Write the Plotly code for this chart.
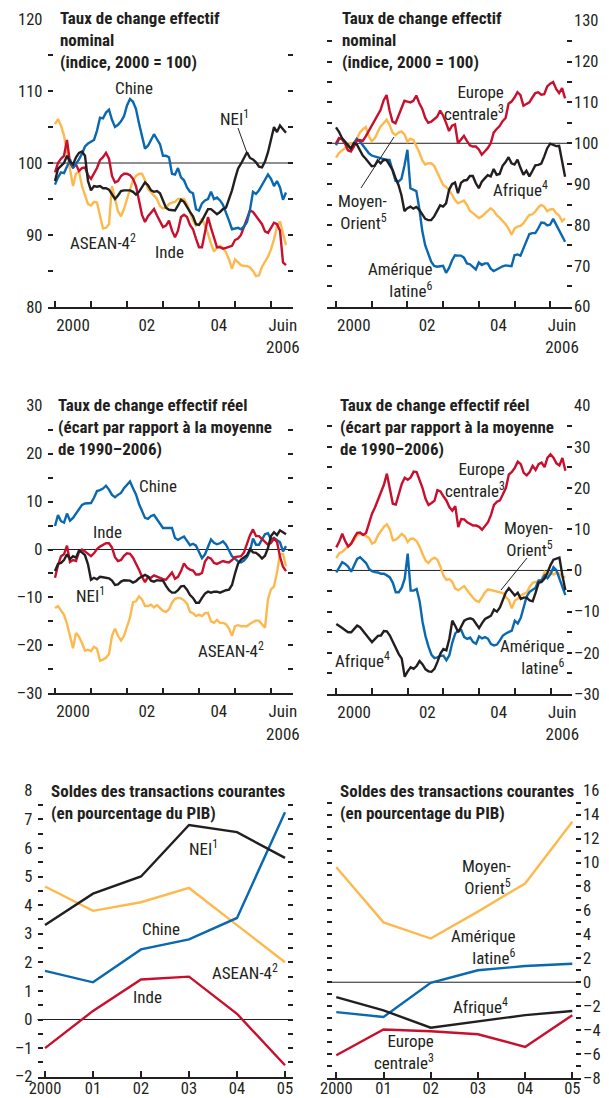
import plotly.graph_objects as go

# The page body keeps the browser's default 8px margin, so the figure is drawn
# 8px in from the top-left corner of the 609x1098 window.
OFF = 8
W, H = 609 - OFF, 1098 - OFF
FONT = "Roboto Condensed, Liberation Sans Narrow, DejaVu Sans Condensed, Liberation Sans, sans-serif"
TXT = "#231F20"
BLUE, RED, ORANGE, BLACK = "#0A68B0", "#C8102E", "#FDB94E", "#231F20"

# ---------------- monthly data, Jan 2000 - Jun 2006 ----------------
nom_chine = [97.0, 98.0, 98.7, 98.6, 99.5, 100.5, 99.3, 99.9, 100.5, 101.3, 102.3, 102.7,
             103.0, 103.2, 104.5, 106.3, 106.2, 107.0, 107.4, 106.0, 105.0, 105.3, 105.8, 106.5,
             108.0, 108.9, 108.5, 107.5, 105.5, 103.8, 102.0, 102.4, 103.2, 104.0, 103.3, 102.6,
             101.0, 101.0, 100.8, 98.5, 98.4, 99.3, 98.0, 97.6, 96.6, 96.0, 95.8, 93.6,
             93.4, 94.4, 94.8, 95.0, 96.0, 95.0, 95.2, 94.8, 94.2, 93.2, 92.0, 90.8,
             90.9, 91.0, 90.8, 91.2, 91.8, 93.5, 96.0, 95.7, 96.2, 96.9, 97.8, 98.4,
             97.8, 96.8, 97.5, 96.6, 94.9, 95.9]
nom_inde = [98.7, 100.0, 100.6, 101.0, 103.2, 100.0, 99.4, 99.8, 98.9, 99.3, 99.4, 98.3,
            97.8, 98.5, 99.3, 100.4, 100.8, 101.4, 100.6, 98.2, 97.3, 97.5, 98.2, 98.5,
            98.5, 98.3, 97.8, 96.8, 94.8, 92.8, 91.8, 92.6, 93.1, 93.6, 92.7, 92.0,
            91.1, 91.3, 92.0, 90.6, 89.7, 90.6, 92.5, 92.8, 92.5, 91.4, 90.8, 89.5,
            88.3, 88.3, 90.5, 92.5, 91.0, 89.5, 88.3, 88.3, 88.1, 88.2, 88.3, 88.5,
            89.3, 89.5, 90.0, 91.2, 92.5, 93.4, 93.2, 92.6, 92.1, 91.5, 90.5, 90.3,
            91.0, 91.7, 91.5, 90.6, 86.2, 85.8]
nom_asean = [105.4, 106.1, 105.2, 103.8, 101.5, 99.0, 96.8, 98.5, 98.8, 96.8, 95.4, 94.3,
             94.1, 94.6, 94.5, 92.5, 90.9, 91.0, 91.5, 96.8, 95.0, 93.3, 92.6, 93.6,
             95.0, 96.3, 97.6, 98.2, 98.5, 98.5, 97.6, 96.4, 95.9, 95.5, 95.0, 94.0,
             93.7, 93.8, 94.3, 94.5, 94.6, 95.0, 95.0, 95.0, 94.3, 93.1, 92.0, 91.3,
             91.5, 92.3, 91.2, 90.2, 88.8, 87.7, 88.3, 88.5, 88.2, 87.6, 86.6, 85.3,
             86.6, 86.2, 85.8, 85.7, 85.7, 85.5, 85.0, 84.3, 84.4, 85.6, 86.3, 87.0,
             88.0, 89.4, 91.2, 91.9, 90.2, 88.6]
nom_nei = [97.5, 99.2, 99.6, 100.0, 101.0, 100.2, 99.8, 100.8, 101.4, 101.6, 101.0, 97.5,
           96.2, 96.8, 96.7, 96.8, 96.5, 96.5, 96.3, 95.7, 95.0, 95.5, 96.1, 96.2,
           96.2, 96.2, 96.0, 95.6, 96.0, 96.7, 97.3, 96.9, 96.2, 96.0, 96.1, 95.8,
           94.9, 93.8, 93.5, 93.4, 93.4, 94.1, 94.9, 94.6, 93.8, 93.2, 92.6, 91.5,
           91.4, 92.0, 92.8, 93.6, 93.6, 93.2, 92.9, 93.2, 93.6, 93.8, 95.0, 96.2,
           97.8, 99.2, 99.9, 100.7, 101.5, 100.7, 100.5, 100.1, 99.5, 99.4, 100.2, 101.5,
           103.5, 105.0, 104.3, 105.2, 104.7, 104.2]

nom_europe = [100.0, 101.3, 101.0, 100.0, 98.3, 98.0, 99.2, 100.6, 100.8, 100.6, 101.7, 103.0,
              104.0, 105.6, 106.8, 108.2, 110.5, 111.8, 108.0, 105.3, 104.9, 106.8, 109.0, 110.4,
              110.2, 110.0, 110.4, 111.7, 109.8, 108.4, 106.2, 105.0, 105.3, 105.8, 106.5, 108.0,
              106.8, 105.0, 103.0, 104.3, 104.6, 100.0, 101.0, 101.8, 100.6, 99.5, 99.2, 99.2,
              98.5, 97.2, 98.0, 98.8, 100.0, 102.6, 103.5, 104.2, 105.4, 106.2, 109.7, 110.2,
              111.2, 112.5, 111.8, 109.2, 109.6, 110.0, 111.2, 112.3, 112.5, 111.9, 112.0, 113.9,
              114.6, 115.0, 113.3, 112.3, 113.5, 111.0]
nom_moyen = [96.5, 97.6, 98.2, 98.7, 99.4, 100.0, 100.0, 101.1, 102.6, 103.4, 104.0, 101.8,
             100.5, 101.2, 102.8, 104.1, 104.9, 105.8, 104.5, 102.6, 102.0, 102.6, 102.9, 102.2,
             100.4, 101.1, 100.8, 99.4, 97.8, 95.8, 94.8, 95.1, 95.1, 94.5, 93.0, 91.4,
             89.8, 89.3, 88.6, 87.4, 86.1, 85.3, 85.7, 86.0, 84.9, 83.5, 82.9, 82.2,
             81.7, 82.1, 82.7, 83.3, 84.1, 83.5, 82.4, 81.8, 81.0, 80.2, 79.1, 77.6,
             79.1, 79.6, 79.8, 80.4, 81.5, 82.5, 82.6, 83.3, 84.3, 84.9, 84.5, 83.4,
             83.8, 83.9, 82.9, 82.3, 80.9, 81.6]
nom_amlat = [99.5, 101.0, 101.2, 100.4, 99.4, 98.7, 100.0, 101.1, 100.5, 99.5, 98.3, 97.6,
             97.0, 96.8, 96.6, 96.3, 96.1, 95.9, 95.9, 93.5, 90.8, 90.6, 91.3, 94.5,
             98.4, 89.0, 88.6, 88.3, 84.0, 78.5, 75.0, 72.7, 71.0, 70.0, 69.8, 69.9,
             70.0, 68.3, 69.5, 71.3, 72.6, 72.5, 72.5, 72.0, 70.6, 70.4, 69.8, 69.1,
             70.8, 70.2, 70.6, 70.6, 69.3, 68.7, 69.1, 69.6, 69.9, 70.1, 70.0, 69.9,
             72.6, 72.8, 72.5, 74.3, 76.1, 77.8, 78.0, 78.0, 79.2, 80.6, 80.5, 79.9,
             80.1, 81.5, 80.1, 78.7, 77.0, 75.9]
nom_afrique = [103.9, 102.8, 101.3, 100.3, 99.5, 98.7, 100.0, 99.7, 98.2, 97.0, 96.2, 95.2,
               94.4, 94.5, 95.8, 95.1, 95.9, 95.9, 94.6, 93.5, 91.5, 89.8, 87.3, 83.4,
               84.1, 84.5, 84.0, 84.4, 83.7, 82.6, 81.5, 81.2, 81.2, 82.1, 83.4, 84.8,
               84.5, 85.3, 88.6, 90.0, 90.4, 87.8, 90.3, 90.9, 91.0, 92.0, 92.0, 90.2,
               89.0, 90.6, 91.4, 92.2, 91.9, 93.7, 92.3, 92.5, 94.5, 95.4, 96.6, 95.1,
               94.8, 96.0, 94.0, 92.3, 93.3, 91.9, 93.2, 94.6, 94.7, 95.0, 96.8, 98.8,
               99.9, 99.6, 99.3, 99.4, 95.8, 91.8]

reel_chine = [4.9, 7.2, 5.9, 5.6, 7.5, 6.0, 6.6, 7.5, 8.4, 9.3, 9.6, 9.7,
              9.7, 10.8, 12.2, 12.4, 12.7, 13.3, 12.5, 11.4, 10.9, 11.4, 11.8, 12.8,
              13.6, 14.2, 12.8, 11.5, 9.5, 8.2, 6.6, 6.4, 7.0, 7.2, 6.3, 5.4,
              4.5, 4.5, 4.5, 4.5, 2.4, 2.0, 2.4, 2.7, 1.8, 0.9, 1.2, 0.8,
              -0.5, -1.8, -1.0, 0.5, 2.1, 1.4, 1.1, 1.3, 1.7, 1.0, -0.2, -1.4,
              -1.9, -2.5, -2.7, -2.3, -1.6, -0.3, 2.3, 1.0, 1.0, 2.2, 3.2, 3.4,
              2.1, 2.4, 2.0, 1.5, -0.4, 0.7]
reel_inde = [-5.9, -3.3, -1.4, -1.0, 0.8, -2.6, -2.2, -2.4, -0.5, 0.0, -0.4, -1.0,
             -1.4, -0.8, 0.1, 0.6, 1.0, 1.3, 1.3, 0.4, -1.6, -2.4, -2.2, -1.3,
             -0.8, -0.9, -1.7, -2.9, -4.2, -5.7, -6.8, -5.7, -5.9, -5.4, -5.7, -5.9,
             -6.2, -6.3, -5.6, -4.8, -6.1, -5.7, -4.5, -2.9, -3.8, -4.2, -4.4, -5.2,
             -5.2, -4.9, -2.5, -1.6, -1.9, -2.8, -3.0, -2.7, -2.4, -2.6, -2.7, -2.2,
             -1.6, -1.5, -1.4, -0.6, 1.2, 3.0, 4.2, 2.8, 2.8, 2.3, 1.6, 1.0,
             1.4, 2.3, 1.6, -1.5, -3.6, -4.5]
reel_nei = [-4.5, -3.0, -2.8, -2.2, -1.0, -2.0, -1.4, -1.7, -0.2, -0.6, -1.2, -3.1,
            -6.3, -5.9, -6.2, -5.7, -5.8, -5.9, -6.0, -6.5, -7.4, -7.3, -6.7, -6.4,
            -6.5, -6.5, -6.9, -6.6, -6.0, -5.7, -5.3, -5.6, -6.5, -6.7, -6.4, -6.5,
            -6.5, -7.6, -8.5, -9.0, -9.0, -8.5, -7.7, -7.6, -8.4, -9.5, -10.1, -11.1,
            -11.1, -10.1, -9.2, -8.8, -9.0, -8.8, -8.8, -9.0, -8.7, -8.5, -8.4, -7.4,
            -5.0, -3.0, -2.1, -1.7, -1.2, 0.1, -0.6, -0.7, -1.2, -1.9, -1.3, 0.3,
            2.8, 3.6, 3.0, 4.0, 3.5, 3.2]
reel_asean = [-12.2, -11.8, -12.7, -13.6, -15.5, -18.3, -20.6, -17.4, -18.2, -19.5, -21.1, -20.9,
              -21.2, -20.3, -20.7, -23.2, -23.0, -22.6, -21.8, -18.0, -16.5, -18.0, -19.0, -18.0,
              -16.1, -14.2, -11.0, -10.8, -9.8, -10.4, -11.8, -11.8, -11.5, -12.1, -11.6, -12.2,
              -12.8, -13.0, -12.5, -11.1, -10.3, -10.1, -10.2, -10.6, -11.3, -13.0, -13.3, -13.9,
              -13.6, -13.9, -13.3, -13.2, -15.0, -15.3, -14.7, -15.3, -15.3, -15.6, -16.5, -18.0,
              -16.0, -15.8, -16.0, -16.0, -16.0, -15.5, -15.1, -14.8, -14.9, -15.6, -16.3, -10.3,
              -8.3, -7.7, -4.8, -1.0, -0.9, -3.5]

reel_europe = [5.6, 7.0, 8.9, 7.1, 5.8, 6.5, 7.9, 9.1, 9.2, 8.6, 9.1, 11.4,
               13.8, 15.3, 17.0, 18.8, 20.8, 23.5, 19.5, 16.2, 16.0, 18.7, 21.0, 22.5,
               22.0, 22.6, 24.0, 23.9, 22.1, 20.0, 17.4, 15.9, 16.4, 16.9, 19.5, 19.2,
               18.0, 17.0, 15.4, 14.5, 15.6, 10.5, 12.5, 12.4, 11.7, 11.2, 10.9, 10.9,
               10.6, 9.9, 10.9, 11.7, 13.5, 15.9, 16.7, 17.0, 18.5, 20.0, 23.3, 23.9,
               24.9, 26.4, 25.8, 23.7, 23.1, 23.9, 25.4, 24.4, 25.8, 26.2, 25.1, 27.4,
               28.2, 27.4, 26.0, 25.5, 27.3, 24.2]
reel_moyen = [3.0, 4.2, 4.5, 5.2, 5.9, 6.8, 7.3, 8.6, 8.9, 8.8, 8.4, 7.9,
              6.5, 6.9, 8.5, 9.7, 10.6, 11.2, 10.0, 7.3, 7.5, 8.1, 8.9, 8.3,
              6.9, 7.7, 7.7, 7.1, 5.8, 4.0, 2.4, 1.8, 2.7, 3.1, 2.6, 0.9,
              -1.2, -2.3, -2.1, -2.8, -4.4, -4.8, -4.3, -3.8, -4.8, -5.8, -6.7, -7.4,
              -7.6, -6.5, -5.3, -4.6, -4.8, -4.9, -5.2, -5.3, -5.5, -6.5, -7.2, -9.2,
              -7.3, -6.9, -6.1, -5.7, -5.4, -4.0, -3.0, -2.8, -2.7, -2.2, -0.4, -1.1,
              -0.5, -1.0, -0.6, -0.8, -1.6, -1.6]
reel_amlat = [-0.5, 0.9, 2.0, 1.6, 0.9, -0.3, 1.3, 2.8, 3.2, 2.6, 1.8, 0.4,
              -0.2, -0.4, -0.5, -0.8, -0.8, -1.2, -1.7, -3.0, -5.3, -5.3, -4.2, -2.0,
              4.1, -4.9, -4.9, -4.5, -7.5, -12.5, -16.0, -18.5, -20.5, -21.3, -21.1, -20.7,
              -20.7, -21.8, -20.6, -17.5, -15.3, -14.6, -14.5, -16.2, -16.6, -16.3, -17.4, -17.8,
              -16.0, -16.5, -16.2, -16.6, -17.9, -18.2, -18.0, -17.0, -15.8, -15.3, -15.0, -14.6,
              -12.2, -12.9, -11.5, -8.7, -6.3, -5.2, -4.8, -4.2, -2.4, -2.4, -1.2, -1.9,
              -0.9, 0.8, 0.0, -2.0, -4.0, -6.0]
reel_afrique = [-13.0, -13.6, -14.0, -14.5, -15.0, -15.0, -14.1, -13.4, -13.8, -14.8, -15.8, -16.5,
                -17.4, -16.7, -15.9, -15.8, -14.7, -14.8, -15.8, -17.3, -19.0, -20.3, -21.4, -25.8,
                -24.5, -23.5, -23.9, -23.2, -22.0, -22.8, -24.0, -24.5, -24.6, -23.9, -22.2, -20.2,
                -19.1, -19.4, -16.6, -12.2, -13.5, -15.0, -13.6, -12.2, -11.8, -11.6, -11.9, -13.0,
                -14.0, -12.8, -11.8, -11.4, -11.0, -9.5, -10.0, -9.0, -7.0, -5.3, -4.3, -5.2,
                -6.1, -5.4, -6.9, -6.6, -6.6, -7.3, -7.5, -5.4, -3.0, -2.8, -2.0, -0.5,
                1.3, 2.6, 2.8, 3.1, -1.2, -4.8]

# ---------------- annual data: current account (% of GDP) ----------------
annees = ["2000", "01", "02", "03", "04", "05"]
cc_nei = [3.3, 4.4, 5.0, 6.8, 6.55, 5.65]
cc_asean = [4.65, 3.8, 4.1, 4.6, 3.3, 2.0]
cc_chine = [1.7, 1.3, 2.45, 2.8, 3.55, 7.25]
cc_inde = [-1.0, 0.3, 1.4, 1.5, 0.2, -1.6]
cc_moyen = [9.6, 5.0, 3.65, 5.9, 8.25, 13.4]
cc_amlat = [-2.5, -2.9, -0.05, 1.0, 1.35, 1.55]
cc_afrique = [-1.25, -2.35, -3.8, -3.3, -2.75, -2.4]
cc_europe = [-6.1, -3.95, -4.1, -4.35, -5.4, -2.75]

# ---------------- layout helpers (positions given in window pixels) ----------------
def fx(p):
    return (p - OFF) / W

def fy(p):
    return 1 - (p - OFF) / H

def months(series):
    return [2000 + i / 12 for i in range(len(series))]

def num_label(v, step):
    if abs(v / step - round(v / step)) > 1e-9:
        return ""
    s = ("%g" % abs(v))
    return ("\u2013" + s) if v < 0 else s

fig = go.Figure()
layout = dict(width=W, height=H, margin=dict(l=0, r=0, t=0, b=0, pad=0, autoexpand=False),
              paper_bgcolor="white", plot_bgcolor="white", showlegend=False,
              font=dict(family=FONT, size=17, color=TXT))

# (x domain px, y domain px, y range, tick step, label step, label side, monthly?,
#  px of 2000, px per year, x label standoff)
panels = [
    ((47.5, 293), (19, 307), (80, 120), 5, 10, "left", True, 55, 36.0, 2),
    ((327, 572), (20.7, 306.7), (60, 130), 5, 10, "right", True, 336, 35.7, 2),
    ((47.5, 293), (405.7, 693.3), (-30, 30), 5, 10, "left", True, 55, 36.0, 2),
    ((327, 572), (405.7, 694), (-30, 40), 5, 10, "right", True, 336.3, 35.7, 2),
    ((37.5, 293), (790.7, 1076.7), (-2, 8), 0.5, 1, "left", False, 45, 48.0, -4),
    ((327, 581), (790.7, 1078), (-8, 16), 1, 2, "right", False, 336.3, 47.2, -6),
]

TICKW = 1.8
for k, (xd, yd, yr, tstep, lstep, side, monthly, x0, ppy, xso) in enumerate(panels, start=1):
    sfx = "" if k == 1 else str(k)
    base = 2000 if monthly else 0
    xr = [base + (xd[0] - x0) / ppy, base + (xd[1] - x0) / ppy]
    n = int(round((yr[1] - yr[0]) / tstep))
    yvals = [yr[0] + i * tstep for i in range(n + 1)]
    ytext = [num_label(v, lstep) for v in yvals]
    if monthly:
        xax = dict(tickvals=[2000.5, 2002.55, 2004.55, 2006.33],
                   ticktext=["2000", "02", "04", "Juin<br>2006"], ticks="",
                   minor=dict(tickvals=list(range(2000, 2007)), ticks="inside",
                              ticklen=6, tickwidth=TICKW, tickcolor=TXT),
                   tickfont=dict(family=FONT, size=17, color=TXT))
    else:
        xax = dict(tickvals=list(range(len(annees))), ticktext=annees,
                   ticks="inside", ticklen=6, tickwidth=TICKW, tickcolor=TXT,
                   tickfont=dict(family=FONT, size=16.5, color=TXT))
    xax.update(domain=[fx(xd[0]), fx(xd[1])], range=xr, showgrid=False,
               zeroline=False, showline=True, linecolor=TXT, linewidth=1.5,
               anchor="y" + sfx, fixedrange=True, automargin=False,
               ticklabelstandoff=xso)
    yax = dict(domain=[fy(yd[1]), fy(yd[0])], range=list(yr), tickvals=yvals,
               ticktext=ytext, ticks="inside", ticklen=5, tickwidth=TICKW,
               tickcolor=TXT, mirror="ticks", showline=False, showgrid=False,
               zeroline=False, side=side, anchor="x" + sfx, fixedrange=True,
               ticklabelstandoff=(4 if side == "left" else 1), automargin=False,
               layer="above traces",
               tickfont=dict(family=FONT, size=16.5, color=TXT))
    layout["xaxis" + sfx] = xax
    layout["yaxis" + sfx] = yax

fig.update_layout(**layout)

def add_line(series, color, k, xs=None):
    sfx = "" if k == 1 else str(k)
    fig.add_trace(go.Scatter(x=xs if xs is not None else months(series), y=series,
                             mode="lines", line=dict(color=color, width=2.4),
                             xaxis="x" + sfx, yaxis="y" + sfx, hoverinfo="skip"))

def ref_line(k, y):
    sfx = "" if k == 1 else str(k)
    fig.add_shape(type="line", xref="x" + sfx + " domain", x0=0, x1=1,
                  yref="y" + sfx, y0=y, y1=y, line=dict(color=TXT, width=1),
                  layer="below")

for k, y in [(1, 100), (2, 100), (3, 0), (4, 0), (5, 0), (6, 0)]:
    ref_line(k, y)

add_line(nom_asean, ORANGE, 1)
add_line(nom_inde, RED, 1)
add_line(nom_chine, BLUE, 1)
add_line(nom_nei, BLACK, 1)

add_line(nom_moyen, ORANGE, 2)
add_line(nom_amlat, BLUE, 2)
add_line(nom_europe, RED, 2)
add_line(nom_afrique, BLACK, 2)

add_line(reel_asean, ORANGE, 3)
add_line(reel_chine, BLUE, 3)
add_line(reel_inde, RED, 3)
add_line(reel_nei, BLACK, 3)

add_line(reel_moyen, ORANGE, 4)
add_line(reel_europe, RED, 4)
add_line(reel_amlat, BLUE, 4)
add_line(reel_afrique, BLACK, 4)

idx = list(range(len(annees)))
add_line(cc_asean, ORANGE, 5, idx)
add_line(cc_inde, RED, 5, idx)
add_line(cc_chine, BLUE, 5, idx)
add_line(cc_nei, BLACK, 5, idx)

add_line(cc_moyen, ORANGE, 6, idx)
add_line(cc_europe, RED, 6, idx)
add_line(cc_amlat, BLUE, 6, idx)
add_line(cc_afrique, BLACK, 6, idx)

# ---------------- titles ----------------
titles = [
    (58, 6, "<b>Taux de change effectif<br>nominal<br>(indice, 2000 = 100)</b>"),
    (340, 6, "<b>Taux de change effectif<br>nominal<br>(indice, 2000 = 100)</b>"),
    (56, 393, "<b>Taux de change effectif réel<br>(écart par rapport à la moyenne<br>de 1990\u20132006)</b>"),
    (338, 393, "<b>Taux de change effectif réel<br>(écart par rapport à la moyenne<br>de 1990\u20132006)</b>"),
    (49, 779, "<b>Soldes des transactions courantes<br>(en pourcentage du PIB)</b>"),
    (338, 779, "<b>Soldes des transactions courantes<br>(en pourcentage du PIB)</b>"),
]
for x, y, t in titles:
    fig.add_annotation(text=t, xref="paper", yref="paper", x=fx(x), y=fy(y),
                       xanchor="left", yanchor="top", align="left", showarrow=False,
                       font=dict(family=FONT, size=17, color=TXT))

# ---------------- series labels (centre positions, px) ----------------
labels = [
    (134, 88, "Chine"), (234, 118, "NEI<sup>1</sup>"), (103, 242, "ASEAN-4<sup>2</sup>"),
    (169, 252, "Inde"),
    (474, 103, "Europe<br>centrale<sup>3</sup>"), (520, 189, "Afrique<sup>4</sup>"),
    (362, 212, "Moyen-<br>Orient<sup>5</sup>"), (400, 280, "Amérique<br>latine<sup>6</sup>"),
    (158, 486, "Chine"), (107, 532, "Inde"), (90, 595, "NEI<sup>1</sup>"),
    (231, 650, "ASEAN-4<sup>2</sup>"),
    (475, 480, "Europe<br>centrale<sup>3</sup>"), (528, 539, "Moyen-<br>Orient<sup>5</sup>"),
    (362, 660, "Afrique<sup>4</sup>"), (532, 657, "Amérique<br>latine<sup>6</sup>"),
    (203, 848, "NEI<sup>1</sup>"), (161, 929, "Chine"), (245, 972, "ASEAN-4<sup>2</sup>"),
    (147, 997, "Inde"),
    (486, 877, "Moyen-<br>Orient<sup>5</sup>"), (483, 947, "Amérique<br>latine<sup>6</sup>"),
    (480, 1006, "Afrique<sup>4</sup>"), (404, 1052, "Europe<br>centrale<sup>3</sup>"),
]
for x, y, t in labels:
    fig.add_annotation(text=t, xref="paper", yref="paper", x=fx(x), y=fy(y),
                       xanchor="center", yanchor="middle", align="right", showarrow=False,
                       font=dict(family=FONT, size=17, color=TXT))

for (xa, ya, xb, yb) in [(238, 128, 247, 153), (361, 188, 394, 137), (527, 558, 501, 590)]:
    fig.add_shape(type="line", xref="paper", yref="paper", x0=fx(xa), y0=fy(ya),
                  x1=fx(xb), y1=fy(yb), line=dict(color=TXT, width=1))

fig.write_html("out.html")
